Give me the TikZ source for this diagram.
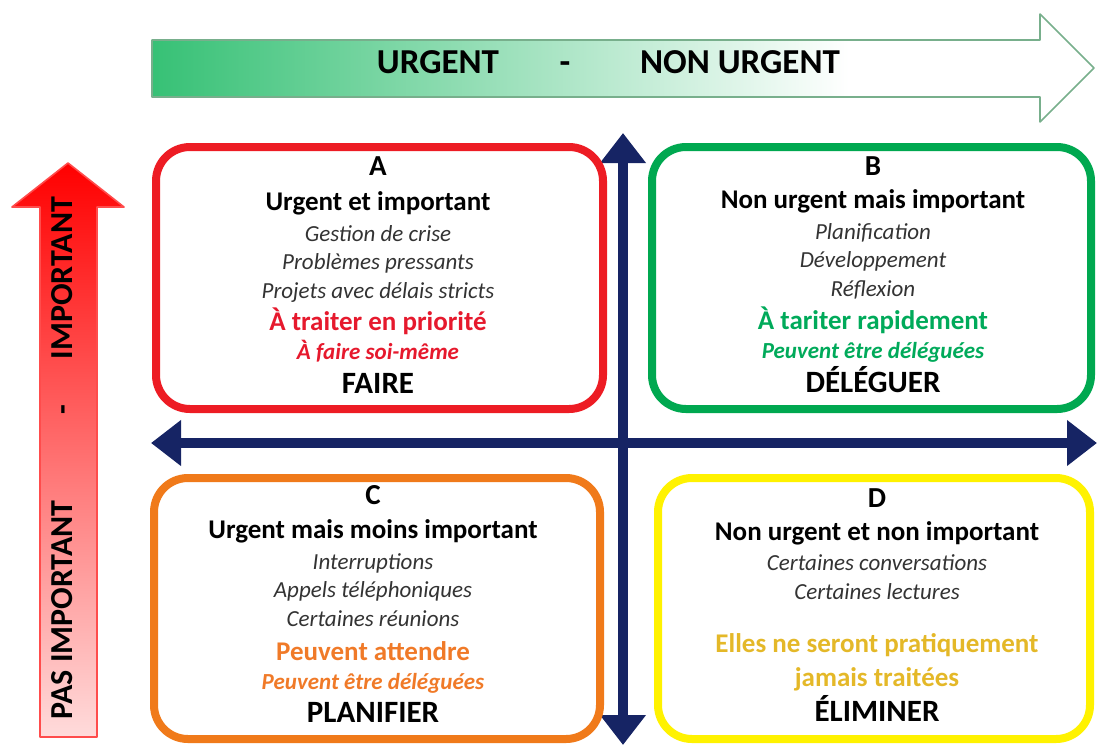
\documentclass[tikz,border=0pt]{standalone}
\usepackage{fontspec}
\setmainfont{Carlito}
\usepackage{xcolor}
\usetikzlibrary{positioning,arrows.meta}

\definecolor{axisblue}{RGB}{22,36,100}
\definecolor{boxred}{RGB}{237,28,36}
\definecolor{boxgreen}{RGB}{0,168,80}
\definecolor{boxorange}{RGB}{240,122,26}
\definecolor{boxyellow}{RGB}{255,242,0}
\definecolor{txtred}{RGB}{230,25,45}
\definecolor{txtgreen}{RGB}{0,170,90}
\definecolor{txtorange}{RGB}{240,122,40}
\definecolor{txtgold}{RGB}{228,184,40}
\definecolor{urggreen}{RGB}{0,176,80}
\definecolor{urgline}{RGB}{120,175,140}

\pgfdeclarehorizontalshading{urgshade}{100bp}{color(0bp)=(urggreen); color(22bp)=(urggreen!85); color(62bp)=(white); color(100bp)=(white)}

\begin{document}
\begin{tikzpicture}[x=0.5pt,y=-0.5pt, line join=round,
    quad/.style={rounded corners=17pt, line width=4pt},
    txt/.style={inner sep=0pt, text height=1.55ex, text depth=0.35ex},
    letter/.style={txt, font=\bfseries\fontsize{14.5}{17}\selectfont},
    head/.style={txt, font=\bfseries\fontsize{13.5}{16}\selectfont},
    item/.style={txt, font=\itshape\fontsize{11.5}{14}\selectfont, text=black!80},
    note/.style={txt, font=\bfseries\fontsize{13.5}{16}\selectfont},
    notei/.style={txt, font=\bfseries\itshape\fontsize{11.5}{14}\selectfont},
    verb/.style={txt, font=\bfseries\fontsize{15.5}{18}\selectfont},
    axislabel/.style={txt, font=\bfseries\fontsize{17.5}{20}\selectfont},
    sidelabel/.style={txt, rotate=90, font=\bfseries\fontsize{16}{19}\selectfont},
    axis/.style={draw=axisblue, line width=5pt, {Triangle[length=15pt,width=22pt]}-{Triangle[length=15pt,width=22pt]}}]
  \useasboundingbox (0,0) rectangle (1097,745);

  % ===== fleche du haut =====
  \path[shading=urgshade, draw=urgline, line width=0.8pt]
    (152,40) -- (1040,40) -- (1040,14) -- (1094,68) -- (1040,122) -- (1040,97) -- (152,97) -- cycle;
  \node[axislabel] (urg) at (438,68) {URGENT};
  \node[axislabel] (urgsep) at (565,68) {-};
  \node[axislabel] (nonurg) at (740,68) {NON URGENT};

  % ===== fleche de gauche =====
  \shade[top color=red, bottom color=red!14, draw=red!70, line width=0.8pt]
    (40,737) -- (40,207) -- (12,207) -- (68,163) -- (124,207) -- (97,207) -- (97,737) -- cycle;
  \node[sidelabel] (pasimp) at (67,610) {PAS IMPORTANT};
  \node[sidelabel] (impsep) at (67,410) {-};
  \node[sidelabel] (imp) at (67,278) {IMPORTANT};

  % ===== axes =====
  \coordinate (xl) at (151,443);
  \coordinate (xr) at (1097,443);
  \coordinate (yt) at (623,133);
  \coordinate (yb) at (623,745);
  \draw[axis] (xl) -- (xr);
  \draw[axis] (yt) -- (yb);

  % ===== quadrants =====
  \draw[quad, boxred] (156,147) rectangle (603,409);
  \draw[quad, boxgreen] (652,147) rectangle (1091,409);
  \draw[quad, boxorange] (154,478) rectangle (600,739);
  \draw[quad, boxyellow] (658,478) rectangle (1090,739);

  % A
  \node[letter] (aL) at (378,170) {A};
  \node[head] (aH) at (378,205) {Urgent et important};
  \node[item] (a1) at (378,236) {Gestion de crise};
  \node[item] (a2) at (378,264) {Problèmes pressants};
  \node[item] (a3) at (378,293) {Projets avec délais stricts};
  \node[note, text=txtred] (aN) at (378,325) {À traiter en priorité};
  \node[notei, text=txtred] (aM) at (378,354) {À faire soi-même};
  \node[verb] (aV) at (378,388) {FAIRE};

  % B
  \node[letter] (bL) at (873,170) {B};
  \node[head] (bH) at (873,203) {Non urgent mais important};
  \node[item] (b1) at (873,234) {Planification};
  \node[item] (b2) at (873,262) {Développement};
  \node[item] (b3) at (873,291) {Réflexion};
  \node[note, text=txtgreen] (bN) at (873,324) {À tariter rapidement};
  \node[notei, text=txtgreen] (bM) at (873,353) {Peuvent être déléguées};
  \node[verb] (bV) at (873,387) {DÉLÉGUER};

  % C
  \node[letter] (cL) at (373,499) {C};
  \node[head] (cH) at (373,533) {Urgent mais moins important};
  \node[item] (c1) at (373,564) {Interruptions};
  \node[item] (c2) at (373,592) {Appels téléphoniques};
  \node[item] (c3) at (373,621) {Certaines réunions};
  \node[note, text=txtorange] (cN) at (373,655) {Peuvent attendre};
  \node[notei, text=txtorange] (cM) at (373,684) {Peuvent être déléguées};
  \node[verb] (cV) at (373,717) {PLANIFIER};

  % D
  \node[letter] (dL) at (877,502) {D};
  \node[head] (dH) at (877,535) {Non urgent et non important};
  \node[item] (d1) at (877,565) {Certaines conversations};
  \node[item] (d2) at (877,594) {Certaines lectures};
  \node[note, text=txtgold] (dN) at (877,647) {Elles ne seront pratiquement};
  \node[note, text=txtgold] (dM) at (877,681) {jamais traitées};
  \node[verb] (dV) at (877,716) {ÉLIMINER};
\end{tikzpicture}
\end{document}
